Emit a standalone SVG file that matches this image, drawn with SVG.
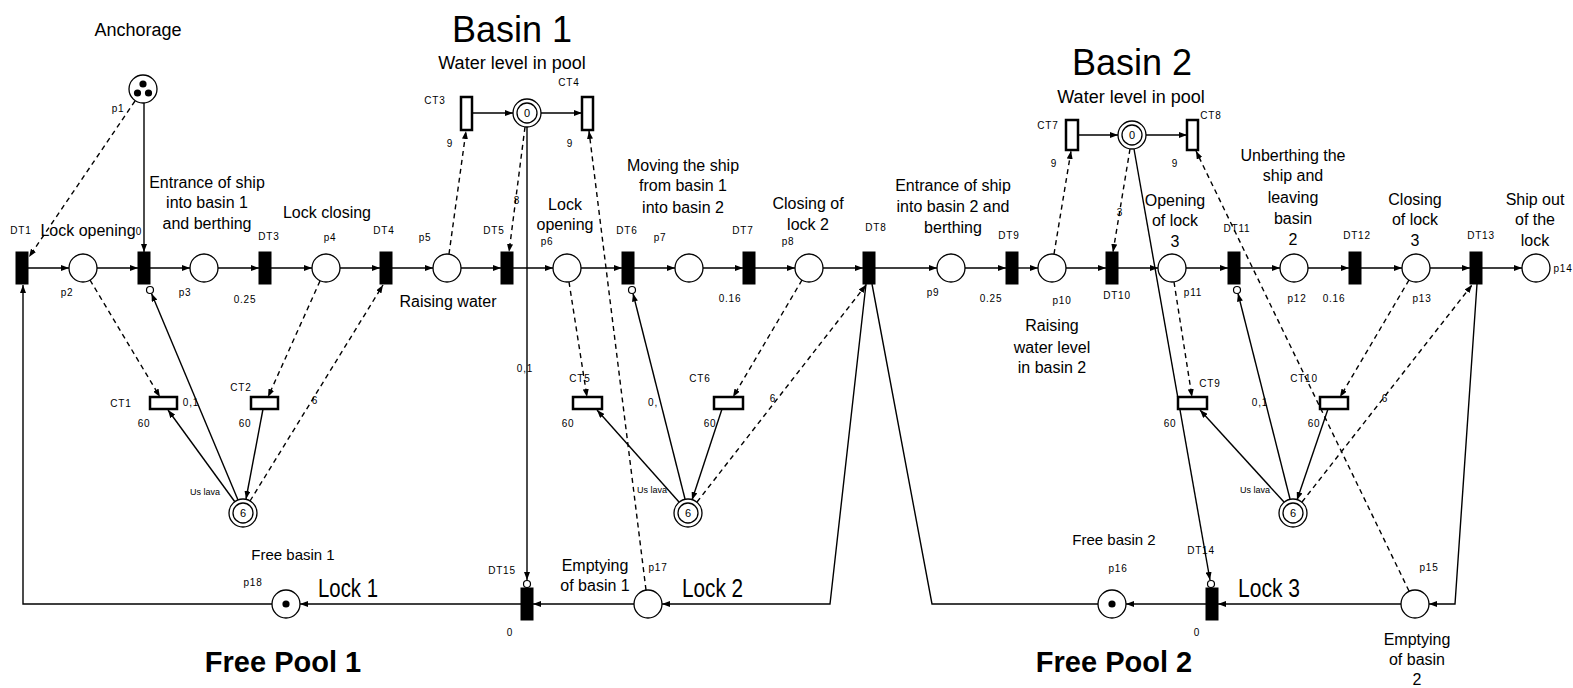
<svg xmlns="http://www.w3.org/2000/svg" width="1573" height="688" viewBox="0 0 1573 688">
<defs>
<marker id="ah" viewBox="0 0 8 6" refX="8" refY="3" markerWidth="8" markerHeight="6" markerUnits="userSpaceOnUse" orient="auto"><path d="M0,0 L8,3 L0,6 z" fill="#000"/></marker>
</defs>
<style>
.tr{fill:#000;stroke:#000;stroke-width:1}
.ct{fill:#fff;stroke:#000;stroke-width:2.5}
.pl{fill:#fff;stroke:#000;stroke-width:1.3}
.tok{fill:#000}
.a{fill:none;stroke:#000;stroke-width:1.4;marker-end:url(#ah)}
.n{fill:none;stroke:#000;stroke-width:1.4}
.d{fill:none;stroke:#000;stroke-width:1.4;stroke-dasharray:5,4;marker-end:url(#ah)}
.inh{fill:#fff;stroke:#000;stroke-width:1.2}
text{font-family:"Liberation Sans",Arial,sans-serif;fill:#000}
.s{font-size:10px;letter-spacing:0.8px;text-anchor:middle}
.u{font-size:9px;text-anchor:middle}
.m{font-size:16px;text-anchor:middle}
.m18{font-size:18px;text-anchor:middle}
.big{font-size:36px;text-anchor:middle}
.fp{font-size:29px;font-weight:bold;text-anchor:middle}
.lk{font-size:26px}
.in{font-size:11px;text-anchor:middle}
</style>
<rect width="1573" height="688" fill="#fff"/>

<g id="connectors">
<line class="a" x1="28" y1="268" x2="69" y2="268"/>
<line class="a" x1="97" y1="268" x2="138" y2="268"/>
<line class="a" x1="150" y1="268" x2="190" y2="268"/>
<line class="a" x1="218" y1="268" x2="259" y2="268"/>
<line class="a" x1="271" y1="268" x2="312" y2="268"/>
<line class="a" x1="340" y1="268" x2="380" y2="268"/>
<line class="a" x1="392" y1="268" x2="433" y2="268"/>
<line class="a" x1="461" y1="268" x2="501" y2="268"/>
<line class="a" x1="513" y1="268" x2="553" y2="268"/>
<line class="a" x1="581" y1="268" x2="622" y2="268"/>
<line class="a" x1="634" y1="268" x2="675" y2="268"/>
<line class="a" x1="703" y1="268" x2="743" y2="268"/>
<line class="a" x1="755" y1="268" x2="795" y2="268"/>
<line class="a" x1="823" y1="268" x2="863" y2="268"/>
<line class="a" x1="875" y1="268" x2="937" y2="268"/>
<line class="a" x1="965" y1="268" x2="1006" y2="268"/>
<line class="a" x1="1018" y1="268" x2="1038" y2="268"/>
<line class="a" x1="1066" y1="268" x2="1106" y2="268"/>
<line class="a" x1="1118" y1="268" x2="1158" y2="268"/>
<line class="a" x1="1186" y1="268" x2="1228" y2="268"/>
<line class="a" x1="1240" y1="268" x2="1280" y2="268"/>
<line class="a" x1="1308" y1="268" x2="1349" y2="268"/>
<line class="a" x1="1361" y1="268" x2="1402" y2="268"/>
<line class="a" x1="1430" y1="268" x2="1470" y2="268"/>
<line class="a" x1="1482" y1="268" x2="1522" y2="268"/>
<line class="a" x1="144" y1="103" x2="144" y2="252"/>
<line class="d" x1="135" y1="101" x2="29" y2="257"/>
<line class="a" x1="472" y1="113" x2="513" y2="113"/>
<line class="a" x1="541" y1="113" x2="582" y2="113"/>
<line class="d" x1="449" y1="254" x2="466" y2="131"/>
<line class="d" x1="525" y1="127" x2="509" y2="252"/>
<line class="a" x1="527" y1="127" x2="527" y2="580"/>
<circle class="inh" cx="527" cy="584" r="3.5"/>
<line class="d" x1="646" y1="590" x2="589" y2="131"/>
<line class="a" x1="1078" y1="135" x2="1118" y2="135"/>
<line class="a" x1="1146" y1="135" x2="1187" y2="135"/>
<line class="d" x1="1054" y1="254" x2="1071" y2="151"/>
<line class="d" x1="1130" y1="149" x2="1113" y2="252"/>
<line class="a" x1="1134" y1="149" x2="1210" y2="580"/>
<circle class="inh" cx="1211" cy="584" r="3.5"/>
<line class="d" x1="1409" y1="591" x2="1196" y2="151"/>
<line class="d" x1="90" y1="280" x2="160" y2="397"/>
<line class="d" x1="320" y1="281" x2="268" y2="397"/>
<line class="a" x1="235" y1="502" x2="168" y2="410"/>
<line class="a" x1="238" y1="500" x2="151.5" y2="293.5"/>
<circle class="inh" cx="150" cy="290" r="3.5"/>
<line class="a" x1="263" y1="409" x2="246" y2="499"/>
<line class="d" x1="250" y1="501" x2="383" y2="285"/>
<line class="d" x1="569" y1="282" x2="587" y2="397"/>
<line class="d" x1="802" y1="280" x2="733" y2="397"/>
<line class="a" x1="679" y1="502" x2="597" y2="410"/>
<line class="a" x1="685" y1="499" x2="633" y2="293.5"/>
<circle class="inh" cx="632" cy="290" r="3.5"/>
<line class="a" x1="722" y1="409" x2="692" y2="500"/>
<line class="d" x1="697" y1="502" x2="866" y2="285"/>
<line class="d" x1="1174" y1="282" x2="1192" y2="397"/>
<line class="d" x1="1409" y1="280" x2="1340" y2="397"/>
<line class="a" x1="1284" y1="502" x2="1200" y2="410"/>
<line class="a" x1="1290" y1="499" x2="1238" y2="293.5"/>
<circle class="inh" cx="1237" cy="290" r="3.5"/>
<line class="a" x1="1328" y1="409" x2="1297" y2="500"/>
<line class="d" x1="1302" y1="502" x2="1472" y2="285"/>
<polyline class="a" points="866,284 830,604 662,604"/>
<polyline class="n" points="1098,604 932,604 872,284"/>
<line class="a" x1="634" y1="604" x2="533" y2="604"/>
<line class="a" x1="521" y1="604" x2="300" y2="604"/>
<polyline class="a" points="272,604 23,604 23,285"/>
<polyline class="a" points="1477,284 1455,604 1429,604"/>
<line class="a" x1="1401" y1="604" x2="1218" y2="604"/>
<line class="a" x1="1206" y1="604" x2="1126" y2="604"/>
</g>

<g id="DT1"><rect class="tr" x="16" y="252" width="12" height="32"/><text class="s" x="21" y="234">DT1</text></g>
<g id="DT2"><rect class="tr" x="138" y="252" width="12" height="32"/><text class="s" x="139" y="235">0</text></g>
<g id="DT3"><rect class="tr" x="259" y="252" width="12" height="32"/><text class="s" x="269" y="240">DT3</text><text class="s" x="245" y="303">0.25</text></g>
<g id="DT4"><rect class="tr" x="380" y="252" width="12" height="32"/><text class="s" x="384" y="234">DT4</text></g>
<g id="DT5"><rect class="tr" x="501" y="252" width="12" height="32"/><text class="s" x="494" y="234">DT5</text></g>
<g id="DT6"><rect class="tr" x="622" y="252" width="12" height="32"/><text class="s" x="627" y="234">DT6</text></g>
<g id="DT7"><rect class="tr" x="743" y="252" width="12" height="32"/><text class="s" x="743" y="234">DT7</text><text class="s" x="730" y="302">0.16</text></g>
<g id="DT8"><rect class="tr" x="863" y="252" width="12" height="32"/><text class="s" x="876" y="231">DT8</text></g>
<g id="DT9"><rect class="tr" x="1006" y="252" width="12" height="32"/><text class="s" x="1009" y="239">DT9</text><text class="s" x="991" y="302">0.25</text></g>
<g id="DT10"><rect class="tr" x="1106" y="252" width="12" height="32"/><text class="s" x="1117" y="299">DT10</text></g>
<g id="DT11"><rect class="tr" x="1228" y="252" width="12" height="32"/><text class="s" x="1237" y="232">DT11</text></g>
<g id="DT12"><rect class="tr" x="1349" y="252" width="12" height="32"/><text class="s" x="1357" y="239">DT12</text><text class="s" x="1334" y="302">0.16</text></g>
<g id="DT13"><rect class="tr" x="1470" y="252" width="12" height="32"/><text class="s" x="1481" y="239">DT13</text></g>
<g id="DT15"><rect class="tr" x="521" y="588" width="12" height="32"/><text class="s" x="502" y="574">DT15</text><text class="s" x="510" y="636">0</text></g>
<g id="DT14"><rect class="tr" x="1206" y="588" width="12" height="32"/><text class="s" x="1201" y="554">DT14</text><text class="s" x="1197" y="636">0</text></g>

<g id="CT3"><rect class="ct" x="461" y="97" width="11" height="33"/><text class="s" x="435" y="104">CT3</text><text class="s" x="450" y="147">9</text></g>
<g id="CT4"><rect class="ct" x="582" y="97" width="11" height="33"/><text class="s" x="569" y="86">CT4</text><text class="s" x="570" y="147">9</text></g>
<g id="CT7"><rect class="ct" x="1066" y="120" width="12" height="30"/><text class="s" x="1048" y="129">CT7</text><text class="s" x="1054" y="167">9</text></g>
<g id="CT8"><rect class="ct" x="1187" y="120" width="11" height="30"/><text class="s" x="1211" y="119">CT8</text><text class="s" x="1175" y="167">9</text></g>
<g id="CT1"><rect class="ct" x="150" y="397" width="27" height="12"/><text class="s" x="121" y="407">CT1</text><text class="s" x="144" y="427">60</text><text class="s" x="191" y="406">0,1</text></g>
<g id="CT2"><rect class="ct" x="251" y="397" width="27" height="12"/><text class="s" x="241" y="391">CT2</text><text class="s" x="245" y="427">60</text></g>
<g id="CT5"><rect class="ct" x="573" y="397" width="29" height="12"/><text class="s" x="580" y="382">CT5</text><text class="s" x="568" y="427">60</text></g>
<g id="CT6"><rect class="ct" x="714" y="397" width="29" height="12"/><text class="s" x="700" y="382">CT6</text><text class="s" x="710" y="427">60</text></g>
<g id="CT9"><rect class="ct" x="1178" y="397" width="29" height="12"/><text class="s" x="1210" y="387">CT9</text><text class="s" x="1170" y="427">60</text></g>
<g id="CT10"><rect class="ct" x="1320" y="397" width="28" height="12"/><text class="s" x="1304" y="382">CT10</text><text class="s" x="1314" y="427">60</text></g>

<g id="weights">
<text class="s" x="315" y="404">6</text>
<text class="s" x="517" y="204">8</text>
<text class="s" x="525" y="372">0,1</text>
<text class="s" x="653" y="406">0,</text>
<text class="s" x="773" y="402">6</text>
<text class="s" x="1120" y="216">3</text>
<text class="s" x="1260" y="406">0,1</text>
<text class="s" x="1385" y="402">6</text>
</g>

<g id="p1"><circle class="pl" cx="143" cy="89" r="14"/><circle class="tok" cx="143" cy="84" r="3.6"/><circle class="tok" cx="137.5" cy="93" r="3.6"/><circle class="tok" cx="148.5" cy="93" r="3.6"/><text class="s" x="118" y="112">p1</text></g>
<g id="p2"><circle class="pl" cx="83" cy="268" r="14"/><text class="s" x="67" y="296">p2</text></g>
<g id="p3"><circle class="pl" cx="204" cy="268" r="14"/><text class="s" x="185" y="296">p3</text></g>
<g id="p4"><circle class="pl" cx="326" cy="268" r="14"/><text class="s" x="330" y="241">p4</text></g>
<g id="p5"><circle class="pl" cx="447" cy="268" r="14"/><text class="s" x="425" y="241">p5</text></g>
<g id="p6"><circle class="pl" cx="567" cy="268" r="14"/><text class="s" x="547" y="245">p6</text></g>
<g id="p7"><circle class="pl" cx="689" cy="268" r="14"/><text class="s" x="660" y="241">p7</text></g>
<g id="p8"><circle class="pl" cx="809" cy="268" r="14"/><text class="s" x="788" y="245">p8</text></g>
<g id="p9"><circle class="pl" cx="951" cy="268" r="14"/><text class="s" x="933" y="296">p9</text></g>
<g id="p10"><circle class="pl" cx="1052" cy="268" r="14"/><text class="s" x="1062" y="304">p10</text></g>
<g id="p11"><circle class="pl" cx="1172" cy="268" r="14"/><text class="s" x="1193" y="296">p11</text></g>
<g id="p12"><circle class="pl" cx="1294" cy="268" r="14"/><text class="s" x="1297" y="302">p12</text></g>
<g id="p13"><circle class="pl" cx="1416" cy="268" r="14"/><text class="s" x="1422" y="302">p13</text></g>
<g id="p14"><circle class="pl" cx="1536" cy="268" r="14"/><text class="s" x="1563" y="272">p14</text></g>
<g id="W1"><circle class="pl" cx="527" cy="113" r="14"/><circle class="pl" cx="527" cy="113" r="10"/><text class="in" x="527" y="117">0</text></g>
<g id="W2"><circle class="pl" cx="1132" cy="135" r="14"/><circle class="pl" cx="1132" cy="135" r="10"/><text class="in" x="1132" y="139">0</text></g>
<g id="R1"><circle class="pl" cx="243" cy="513" r="14"/><circle class="pl" cx="243" cy="513" r="10"/><text class="in" x="243" y="517">6</text><text class="u" x="205" y="495">Us lava</text></g>
<g id="R2"><circle class="pl" cx="688" cy="513" r="14"/><circle class="pl" cx="688" cy="513" r="10"/><text class="in" x="688" y="517">6</text><text class="u" x="652" y="493">Us lava</text></g>
<g id="R3"><circle class="pl" cx="1293" cy="513" r="14"/><circle class="pl" cx="1293" cy="513" r="10"/><text class="in" x="1293" y="517">6</text><text class="u" x="1255" y="493">Us lava</text></g>
<g id="p18"><circle class="pl" cx="286" cy="604" r="14"/><circle class="tok" cx="286" cy="604" r="3.6"/><text class="s" x="253" y="586">p18</text></g>
<g id="p17"><circle class="pl" cx="648" cy="604" r="14"/><text class="s" x="658" y="571">p17</text></g>
<g id="p16"><circle class="pl" cx="1112" cy="604" r="14"/><circle class="tok" cx="1112" cy="604" r="3.6"/><text class="s" x="1118" y="572">p16</text></g>
<g id="p15"><circle class="pl" cx="1415" cy="604" r="14"/><text class="s" x="1429" y="571">p15</text></g>

<g id="labels">
<text class="m18" x="138" y="36">Anchorage</text>
<text class="big" x="512" y="42">Basin 1</text>
<text class="m18" x="512" y="69">Water level in pool</text>
<text class="big" x="1132" y="75">Basin 2</text>
<text class="m18" x="1131" y="103">Water level in pool</text>
<text class="m" x="207" y="188">Entrance of ship</text>
<text class="m" x="207" y="208">into basin 1</text>
<text class="m" x="207" y="229">and berthing</text>
<text class="m" x="88" y="236">Lock opening</text>
<text class="m" x="327" y="218">Lock closing</text>
<text class="m" x="565" y="210">Lock</text>
<text class="m" x="565" y="230">opening</text>
<text class="m" x="683" y="171">Moving the ship</text>
<text class="m" x="683" y="191">from basin 1</text>
<text class="m" x="683" y="213">into basin 2</text>
<text class="m" x="808" y="209">Closing of</text>
<text class="m" x="808" y="230">lock 2</text>
<text class="m" x="953" y="191">Entrance of ship</text>
<text class="m" x="953" y="212">into basin 2 and</text>
<text class="m" x="953" y="233">berthing</text>
<text class="m" x="1175" y="206">Opening</text>
<text class="m" x="1175" y="226">of lock</text>
<text class="m" x="1175" y="247">3</text>
<text class="m" x="1293" y="161">Unberthing the</text>
<text class="m" x="1293" y="181">ship and</text>
<text class="m" x="1293" y="203">leaving</text>
<text class="m" x="1293" y="224">basin</text>
<text class="m" x="1293" y="245">2</text>
<text class="m" x="1415" y="205">Closing</text>
<text class="m" x="1415" y="225">of lock</text>
<text class="m" x="1415" y="246">3</text>
<text class="m" x="1535" y="205">Ship out</text>
<text class="m" x="1535" y="225">of the</text>
<text class="m" x="1535" y="246">lock</text>
<text class="m" x="448" y="307">Raising water</text>
<text class="m" x="1052" y="331">Raising</text>
<text class="m" x="1052" y="353">water level</text>
<text class="m" x="1052" y="373">in basin 2</text>
<text class="m" x="293" y="560" style="font-size:15px">Free basin 1</text>
<text class="m" x="1114" y="545" style="font-size:15px">Free basin 2</text>
<text class="m" x="595" y="571">Emptying</text>
<text class="m" x="595" y="591">of basin 1</text>
<text class="m" x="1417" y="645">Emptying</text>
<text class="m" x="1417" y="665">of basin</text>
<text class="m" x="1417" y="685">2</text>
<text class="lk" x="318" y="597" textLength="60" lengthAdjust="spacingAndGlyphs">Lock 1</text>
<text class="lk" x="682" y="597" textLength="61" lengthAdjust="spacingAndGlyphs">Lock 2</text>
<text class="lk" x="1238" y="597" textLength="62" lengthAdjust="spacingAndGlyphs">Lock 3</text>
<text class="fp" x="283" y="672">Free Pool 1</text>
<text class="fp" x="1114" y="672">Free Pool 2</text>
</g>
</svg>
